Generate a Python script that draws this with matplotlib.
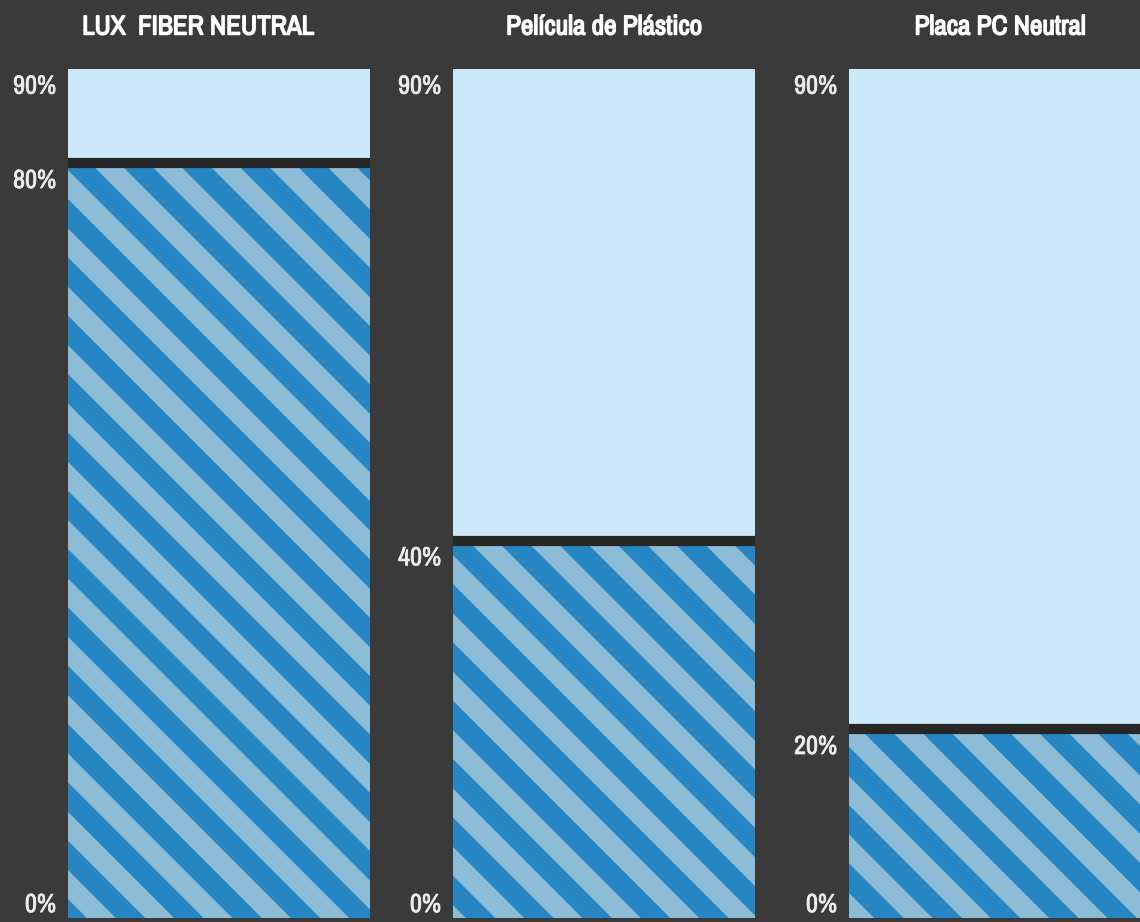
import matplotlib.pyplot as plt
import matplotlib.patheffects as pe
from matplotlib import font_manager

# data
panels = ['LUX  FIBER NEUTRAL', 'Película de Plástico', 'Placa PC Neutral']
values = [80, 40, 20]
top_value = 90

bg = '#3a3a3a'
light = '#cce9fa'
dark_blue = '#2586c3'
stripe = '#8dbcd6'

# pick a narrow font if one is around
installed = {f.name for f in font_manager.fontManager.ttflist}
prefer = ['Liberation Sans Narrow', 'Arial Narrow', 'DejaVu Sans Condensed']
narrow = [n for n in prefer if n in installed]
narrow += sorted(n for n in installed if 'Narrow' in n or 'Condensed' in n)
family = (narrow + ['Liberation Sans'])[0]

DPI = 350
plt.rcParams['hatch.linewidth'] = 4.2
plt.rcParams['font.family'] = [family, 'DejaVu Sans']

fig = plt.figure(figsize=(1140 / DPI, 922 / DPI), dpi=DPI, facecolor=bg)

W, H = 1140, 922
lefts = [68, 453, 849]
bar_w = 302
y0, y1 = 918, 69

# narrow font has no bold here, so thicken the strokes a little
title_fx = [pe.withStroke(linewidth=0.3, foreground='white')]
tick_fx = [pe.withStroke(linewidth=0.15, foreground='#ececec')]

for i, (name, v) in enumerate(zip(panels, values)):
    ax = fig.add_axes([lefts[i] / W, (H - y0) / H, bar_w / W, (y0 - y1) / H])
    ax.patch.set_alpha(0)
    # striped bar for the value
    ax.bar(0, v, width=1, color=dark_blue, edgecolor=stripe, linewidth=0, hatch='\\\\')
    # light bar up to 90%
    ax.bar(0, top_value - v, bottom=v, width=1, color=light, linewidth=0)
    ax.axhline(v, color='#262626', linewidth=2.1)
    ax.set_xlim(-0.5, 0.5)
    ax.set_ylim(0, top_value)
    ax.axis('off')

    # percentage labels
    for t in [top_value, v]:
        ax.text(-0.04, t - 0.6, f'{t}%', transform=ax.get_yaxis_transform(),
                ha='right', va='top', color='#ececec', fontsize=5.4,
                path_effects=tick_fx)
    ax.text(-0.04, 0.2, '0%', transform=ax.get_yaxis_transform(),
            ha='right', va='bottom', color='#ececec', fontsize=5.4,
            path_effects=tick_fx)

    xt = 0.43 if i == 0 else 0.5
    ax.text(xt, 1 + 42 / (y0 - y1), name, transform=ax.transAxes,
            ha='center', va='center', color='white', fontsize=5.6,
            clip_on=False, path_effects=title_fx)

fig.savefig('out.png', dpi=DPI, facecolor=bg)
